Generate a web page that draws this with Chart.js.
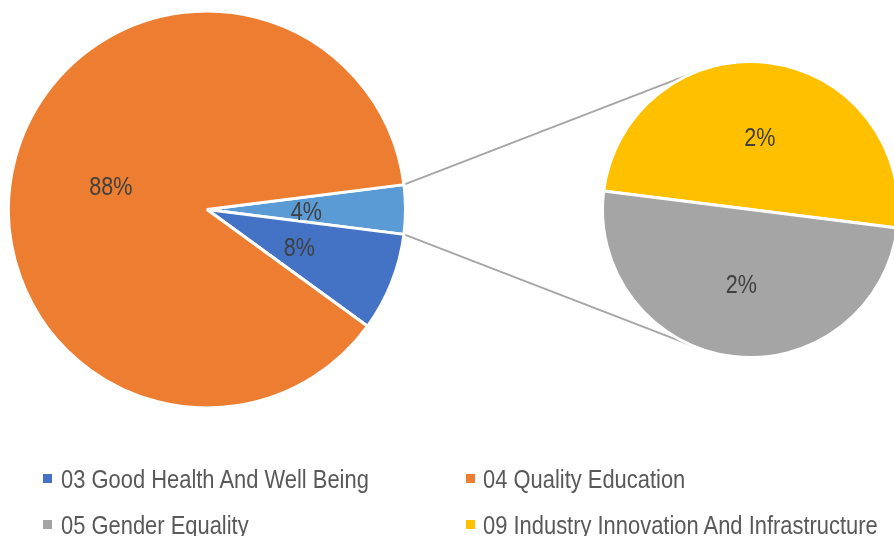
<!DOCTYPE html>
<html>
<head>
<meta charset="utf-8">
<title>Responses by goal</title>
<script src="https://cdn.jsdelivr.net/npm/chart.js@4.4.1/dist/chart.umd.min.js"></script>
<style>
  html, body { margin: 0; padding: 0; background: #ffffff; width: 894px; height: 536px; overflow: hidden; }
  #stage { position: relative; width: 894px; height: 536px; overflow: hidden; }
  #stage canvas { position: absolute; }
  #links { left: 0; top: 0; }
  #mainPie { left: 0; top: 0; }
  #subPie { left: 603px; top: 0; }
  .legend-text {
    position: absolute;
    font-family: 'Liberation Sans', Arial, sans-serif;
    font-size: 26px;
    line-height: 30px;
    color: #595959;
    white-space: nowrap;
    transform: scaleX(0.843);
    transform-origin: 0 50%;
  }
  .legend-swatch { position: absolute; width: 9px; height: 9px; }
</style>
</head>
<body>
<div id="stage">
  <canvas id="links" width="894" height="536"></canvas>
  <canvas id="mainPie" width="414" height="419"></canvas>
  <canvas id="subPie" width="295" height="419"></canvas>
</div>
<script>
// Goals and number of responses for each
const categories = [
  '03 Good Health And Well Being',
  '04 Quality Education',
  '05 Gender Equality',
  '09 Industry Innovation And Infrastructure'
];
const responses = [4, 44, 1, 1];
const colors = ['#4472C4', '#ED7D31', '#A5A5A5', '#FFC000'];

// Goals broken out into the small pie (indices into categories)
const mainGoals = [0, 1];
const splitGoals = [3, 2];
const otherLabel = 'Other';
const otherColor = '#5B9BD5';

const total = responses.reduce((a, b) => a + b, 0);
const otherValue = splitGoals.reduce((s, i) => s + responses[i], 0);

const FONT_FAMILY = "'Liberation Sans', Arial, sans-serif";
const NARROW = 0.83;          // horizontal squeeze for a narrow face
const SLICE_BORDER = 3;

// Percentage labels in the middle of each slice
const percentLabels = {
  id: 'percentLabels',
  afterDatasetsDraw(chart) {
    const ctx = chart.ctx;
    const meta = chart.getDatasetMeta(0);
    const values = chart.data.datasets[0].data;
    ctx.save();
    ctx.font = '26px ' + FONT_FAMILY;
    ctx.fillStyle = '#404040';
    ctx.textAlign = 'center';
    ctx.textBaseline = 'alphabetic';
    meta.data.forEach((arc, i) => {
      const p = arc.tooltipPosition(true);
      ctx.save();
      ctx.translate(p.x, p.y + 10);
      ctx.scale(NARROW, 1);
      ctx.fillText(Math.round(values[i] / total * 100) + '%', 0, 0);
      ctx.restore();
    });
    ctx.restore();
  }
};

function pieOptions(radius, rotation) {
  return {
    responsive: false,
    animation: false,
    rotation: rotation,
    radius: radius,
    layout: { padding: 0 },
    events: [],
    plugins: { legend: { display: false }, tooltip: { enabled: false } }
  };
}

// Main pie: the "Other" slice is centred on the right-hand horizontal
const mainRotation = 90 - (otherValue / total) * 180;
const mainChart = new Chart(document.getElementById('mainPie'), {
  type: 'pie',
  data: {
    labels: [otherLabel].concat(mainGoals.map(i => categories[i])),
    datasets: [{
      data: [otherValue].concat(mainGoals.map(i => responses[i])),
      backgroundColor: [otherColor].concat(mainGoals.map(i => colors[i])),
      borderColor: '#ffffff',
      borderWidth: SLICE_BORDER
    }]
  },
  options: pieOptions(198.5, mainRotation),
  plugins: [percentLabels]
});

// Secondary pie with the goals making up "Other"
const subRotation = 270 + (otherValue / total) * 180;
const subChart = new Chart(document.getElementById('subPie'), {
  type: 'pie',
  data: {
    labels: splitGoals.map(i => categories[i]),
    datasets: [{
      data: splitGoals.map(i => responses[i]),
      backgroundColor: splitGoals.map(i => colors[i]),
      borderColor: '#ffffff',
      borderWidth: SLICE_BORDER
    }]
  },
  options: pieOptions(148, subRotation),
  plugins: [percentLabels]
});

// Connector lines from the edges of "Other" to the tangents of the small pie
function drawConnectors() {
  const ctx = document.getElementById('links').getContext('2d');
  const mArc = mainChart.getDatasetMeta(0).data[0]
    .getProps(['x', 'y', 'startAngle', 'endAngle', 'outerRadius'], true);
  const sArc = subChart.getDatasetMeta(0).data[0]
    .getProps(['x', 'y', 'outerRadius'], true);
  const mx = mainChart.canvas.offsetLeft + mArc.x;
  const my = mainChart.canvas.offsetTop + mArc.y;
  const cx = subChart.canvas.offsetLeft + sArc.x;
  const cy = subChart.canvas.offsetTop + sArc.y;
  const r = sArc.outerRadius;
  const R = mArc.outerRadius;

  const ends = [
    { angle: mArc.startAngle, side: 1 },
    { angle: mArc.endAngle, side: -1 }
  ];
  ctx.save();
  ctx.strokeStyle = '#A5A5A5';
  ctx.lineWidth = 1.75;
  ends.forEach(e => {
    const px = mx + R * Math.cos(e.angle);
    const py = my + R * Math.sin(e.angle);
    const d = Math.hypot(px - cx, py - cy);
    const base = Math.atan2(py - cy, px - cx);
    const t = base + e.side * Math.acos(r / d);
    ctx.beginPath();
    ctx.moveTo(px, py);
    ctx.lineTo(cx + r * Math.cos(t), cy + r * Math.sin(t));
    ctx.stroke();
  });
  ctx.restore();
}
drawConnectors();

// Legend in two columns
const legendColumns = [{ swatch: 42.5, text: 61 }, { swatch: 466, text: 482.5 }];
const legendRows = [{ swatch: 474, text: 463.5 }, { swatch: 520, text: 509.5 }];
const stage = document.getElementById('stage');
categories.forEach((name, i) => {
  const col = legendColumns[i % 2];
  const row = legendRows[Math.floor(i / 2)];
  const sw = document.createElement('div');
  sw.className = 'legend-swatch';
  sw.style.left = col.swatch + 'px';
  sw.style.top = row.swatch + 'px';
  sw.style.background = colors[i];
  const tx = document.createElement('div');
  tx.className = 'legend-text';
  tx.style.left = col.text + 'px';
  tx.style.top = row.text + 'px';
  tx.textContent = name;
  stage.appendChild(sw);
  stage.appendChild(tx);
});
</script>
</body>
</html>
